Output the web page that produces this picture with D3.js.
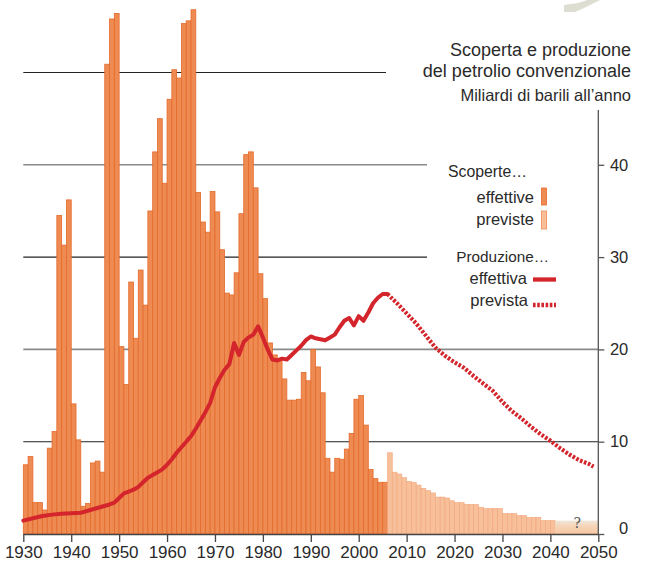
<!DOCTYPE html>
<html><head><meta charset="utf-8">
<script src="https://cdn.jsdelivr.net/npm/d3@7"></script>
<style>
html,body{margin:0;padding:0;background:#fff;}
svg{display:block;font-family:"Liberation Sans",Arial,sans-serif;}
</style></head>
<body>
<svg id="c" width="646" height="565"></svg>
<script>
// ---- data ----
const actualYears = [1930,1931,1932,1933,1934,1935,1936,1937,1938,1939,1940,1941,1942,1943,1944,1945,1946,1947,1948,1949,
  1950,1951,1952,1953,1954,1955,1956,1957,1958,1959,1960,1961,1962,1963,1964,1965,1966,1967,1968,1969,
  1970,1971,1972,1973,1974,1975,1976,1977,1978,1979,1980,1981,1982,1983,1984,1985,1986,1987,1988,1989,
  1990,1991,1992,1993,1994,1995,1996,1997,1998,1999,2000,2001,2002,2003,2004,2005];
const actualDiscoveries = [7.5,8.4,3.4,3.4,2.6,9.3,11.1,34.5,31.3,36.2,14.1,10.2,3.0,3.3,7.7,7.9,6.7,50.9,55.8,56.4,
  20.3,16.2,27.3,21.2,28.6,24.8,35.0,41.4,45.0,38.0,47.1,50.3,49.4,55.3,55.6,56.8,37.0,33.8,32.7,37.1,
  34.9,30.8,26.1,25.9,28.3,34.7,41.1,41.4,37.5,28.2,25.5,20.7,19.4,18.9,16.8,14.5,14.5,14.6,17.5,16.6,
  20.0,18.1,15.3,8.2,6.7,8.2,8.1,9.2,10.9,14.6,15.0,11.8,7.0,6.0,5.6,5.6];
const forecastYears = [2006,2007,2008,2009,2010,2011,2012,2013,2014,2015,2016,2017,2018,2019,2020,2021,2022,2023,
  2024,2025,2026,2027,2028,2029,2030,2031,2032,2033,2034,2035,2036,2037,2038,2039,2040];
const forecastDiscoveries = [8.8,6.7,6.5,6.1,5.7,5.6,5.3,4.95,4.7,4.45,4.0,4.0,3.9,3.6,3.4,3.4,3.2,3.2,
  3.2,2.9,2.75,2.75,2.75,2.75,2.2,2.2,2.2,2.0,2.0,1.8,1.8,1.8,1.45,1.45,1.45];
const unknownSpan = [2041, 2050];
const unknownValue = 1.45;

const prodYears = [1930,1932,1934,1936,1938,1940,1942,1944,1946,1948,1949,1950,1951,1952,1953,1954,1955,1956,1957,1958,
  1959,1960,1961,1962,1963,1964,1965,1966,1967,1968,1969,1970,1971,1972,1973,1974,1975,1976,1977,1978,1979,
  1980,1981,1982,1983,1984,1985,1986,1987,1988,1989,1990,1991,1992,1993,1994,1995,1996,1997,1998,1999,
  2000,2001,2002,2003,2004,2005,2006];
const prodValues = [1.45,1.7,1.95,2.1,2.2,2.25,2.3,2.6,2.9,3.2,3.4,3.9,4.4,4.6,4.8,5.1,5.6,6.1,6.4,6.7,
  7.0,7.5,8.1,8.8,9.4,10.0,10.6,11.4,12.3,13.2,14.2,15.9,16.9,17.8,18.4,20.7,19.4,20.8,21.3,21.6,22.5,
  21.3,20.0,18.9,18.8,19.0,18.9,19.4,19.9,20.4,21.0,21.4,21.2,21.1,21.0,21.3,21.6,22.4,23.1,23.4,22.6,
  23.6,23.1,24.0,25.0,25.6,26.0,26.0];
const prodForecastYears = [2006,2008,2010,2012,2014,2016,2018,2020,2022,2024,2026,2028,2030,2032,2034,2036,2038,2040,2042,2044,2046,2048,2049];
const prodForecastValues = [26.0,25.0,23.9,22.8,21.5,20.2,19.3,18.6,18.0,17.1,16.3,15.5,14.3,13.3,12.5,11.6,10.8,10.1,9.3,8.6,8.0,7.6,7.3];

const xTicks = [1930,1940,1950,1960,1970,1980,1990,2000,2010,2020,2030,2040,2050];
const yTicks = [0,10,20,30,40];
const gridValues = [10,20,30,40,50];
const titleLines = ["Scoperta e produzione","del petrolio convenzionale"];
const unitLabel = "Miliardi di barili all\u2019anno";

// ---- drawing ----
const svg = d3.select("#c");
const x = d3.scaleLinear().domain([1930,2050]).range([23.3,598.3]);
const y = d3.scaleLinear().domain([0,50]).range([534,72.5]);

const barFill = "#EE8B52", barStroke = "#E56A2B";
const lightFill = "#F7C09A", lightStroke = "#F2A57A";
const red = "#D4252C";
const txt = "#2a2a2a";
const narrow = "'Liberation Sans Narrow','Liberation Sans',Arial,sans-serif";

// decorative shape top right
svg.append("path").attr("d","M564,5 L578,3 L594,-2 L604,-2 L582,9 L575,12 L564,12 Z")
  .attr("fill","#DEDDD2");

// gridlines
const gridEnd = {10:598.3,20:598.3,30:427,40:427,50:386};
const gridStyle = {10:["#222",1.1],20:["#8a8a8a",1.6],30:["#222",1.1],40:["#8a8a8a",1.6],50:["#222",1.1]};
svg.append("g").selectAll("line").data(gridValues).join("line")
  .attr("x1",x(1930)).attr("x2",d=>gridEnd[d])
  .attr("y1",d=>y(d)).attr("y2",d=>y(d))
  .attr("stroke",d=>gridStyle[d][0]).attr("stroke-width",d=>gridStyle[d][1]);

// gradient for unknown band
const defs = svg.append("defs");
const grad = defs.append("linearGradient").attr("id","qg").attr("x1",0).attr("y1",0).attr("x2",0).attr("y2",1);
grad.append("stop").attr("offset","0%").attr("stop-color","#F0E6D8");
grad.append("stop").attr("offset","45%").attr("stop-color","#F6D3B6");
grad.append("stop").attr("offset","100%").attr("stop-color","#F8C6A2");

// actual bars
svg.append("g").selectAll("rect").data(actualYears.map((yr,i)=>({yr,v:actualDiscoveries[i]}))).join("rect")
  .attr("x",d=>x(d.yr)).attr("width",d=>x(d.yr+1)-x(d.yr))
  .attr("y",d=>y(d.v)).attr("height",d=>y(0)-y(d.v))
  .attr("fill",barFill).attr("stroke",barStroke).attr("stroke-width",0.8);

// forecast bars
svg.append("g").selectAll("rect").data(forecastYears.map((yr,i)=>({yr,v:forecastDiscoveries[i]}))).join("rect")
  .attr("x",d=>x(d.yr)).attr("width",d=>x(d.yr+1)-x(d.yr))
  .attr("y",d=>y(d.v)).attr("height",d=>y(0)-y(d.v))
  .attr("fill",lightFill).attr("stroke",lightStroke).attr("stroke-width",0.6);

// unknown band
svg.append("rect").attr("x",x(unknownSpan[0])).attr("width",x(unknownSpan[1])-x(unknownSpan[0]))
  .attr("y",y(unknownValue)).attr("height",y(0)-y(unknownValue)).attr("fill","url(#qg)");
svg.append("text").attr("x",(x(unknownSpan[0])+x(unknownSpan[1]))/2+0.5).attr("y",y(0)-6)
  .attr("text-anchor","middle").attr("font-size",14).attr("fill","#555")
  .attr("font-family","'DejaVu Serif',serif").text("?");

// production lines
const line = d3.line().x(d=>x(d[0])).y(d=>y(d[1])).curve(d3.curveLinear);
svg.append("path").datum(prodYears.map((yr,i)=>[yr,prodValues[i]]))
  .attr("d",line).attr("fill","none").attr("stroke",red).attr("stroke-width",4)
  .attr("stroke-linejoin","round").attr("stroke-linecap","round");
svg.append("path").datum(prodForecastYears.map((yr,i)=>[yr,prodForecastValues[i]]))
  .attr("d",line).attr("fill","none").attr("stroke",red).attr("stroke-width",4.2)
  .attr("stroke-dasharray","2.6,1.6");

// x axis
const xAxis = svg.append("g").attr("transform",`translate(0,${y(0)})`)
  .call(d3.axisBottom(x).tickValues(xTicks).tickFormat(d3.format("d")).tickSize(8).tickPadding(4).tickSizeOuter(0));
xAxis.select(".domain").attr("stroke","#444").attr("stroke-width",1.3);
xAxis.selectAll(".tick line").attr("stroke","#444").attr("stroke-width",1.3);
xAxis.selectAll(".tick text").attr("font-size",17).attr("fill",txt)
  .attr("font-family","'Liberation Sans',Arial,sans-serif");

// y axis (right)
const yAxisG = svg.append("g").attr("transform",`translate(${x(2050)},0)`);
yAxisG.append("line").attr("x1",0).attr("x2",0).attr("y1",110).attr("y2",y(0)).attr("stroke","#555").attr("stroke-width",1.3);
const yAx = d3.axisRight(y).tickValues(yTicks).tickSize(6).tickPadding(0).tickSizeOuter(0);
const ya = yAxisG.append("g").call(yAx);
ya.select(".domain").remove();
ya.selectAll(".tick line").attr("stroke","#555").attr("stroke-width",1.3);
ya.selectAll(".tick text").attr("font-size",16.5).attr("fill",txt)
  .attr("text-anchor","end").attr("x",30).attr("dy",d=>d===0?"-0.05em":"0.32em")
  .attr("font-family","'Liberation Sans',Arial,sans-serif");

// title
svg.append("g").selectAll("text").data(titleLines).join("text")
  .attr("x",631).attr("y",(d,i)=>56+i*21).attr("text-anchor","end")
  .attr("font-size",18).attr("fill",txt).attr("font-family",narrow).text(d=>d);
svg.append("text").attr("x",631).attr("y",101).attr("text-anchor","end")
  .attr("font-size",16.5).attr("fill",txt).attr("font-family",narrow).text(unitLabel);

// legend
const lg = svg.append("g").attr("font-size",16.5).attr("fill",txt).attr("font-family",narrow);
lg.append("text").attr("x",527).attr("y",177).attr("text-anchor","end").attr("font-size",15.8).text("Scoperte\u2026");
lg.append("text").attr("x",534).attr("y",203).attr("text-anchor","end").text("effettive");
lg.append("text").attr("x",534).attr("y",225).attr("text-anchor","end").text("previste");
lg.append("rect").attr("x",541.5).attr("y",188).attr("width",5).attr("height",17).attr("fill",barFill).attr("stroke",barStroke).attr("stroke-width",0.8);
lg.append("rect").attr("x",541.5).attr("y",211).attr("width",5).attr("height",18).attr("fill",lightFill).attr("stroke","#EE8B52").attr("stroke-width",0.8);
lg.append("text").attr("x",549).attr("y",262).attr("text-anchor","end").attr("font-size",15.3).text("Produzione\u2026");
lg.append("text").attr("x",527).attr("y",284).attr("text-anchor","end").text("effettiva");
lg.append("text").attr("x",528).attr("y",306).attr("text-anchor","end").text("prevista");
lg.append("line").attr("x1",533).attr("x2",556).attr("y1",279.5).attr("y2",279.5).attr("stroke",red).attr("stroke-width",4.3);
lg.append("line").attr("x1",533).attr("x2",556).attr("y1",305).attr("y2",305).attr("stroke",red).attr("stroke-width",4.3).attr("stroke-dasharray","2.6,1.6");
</script>
</body></html>
